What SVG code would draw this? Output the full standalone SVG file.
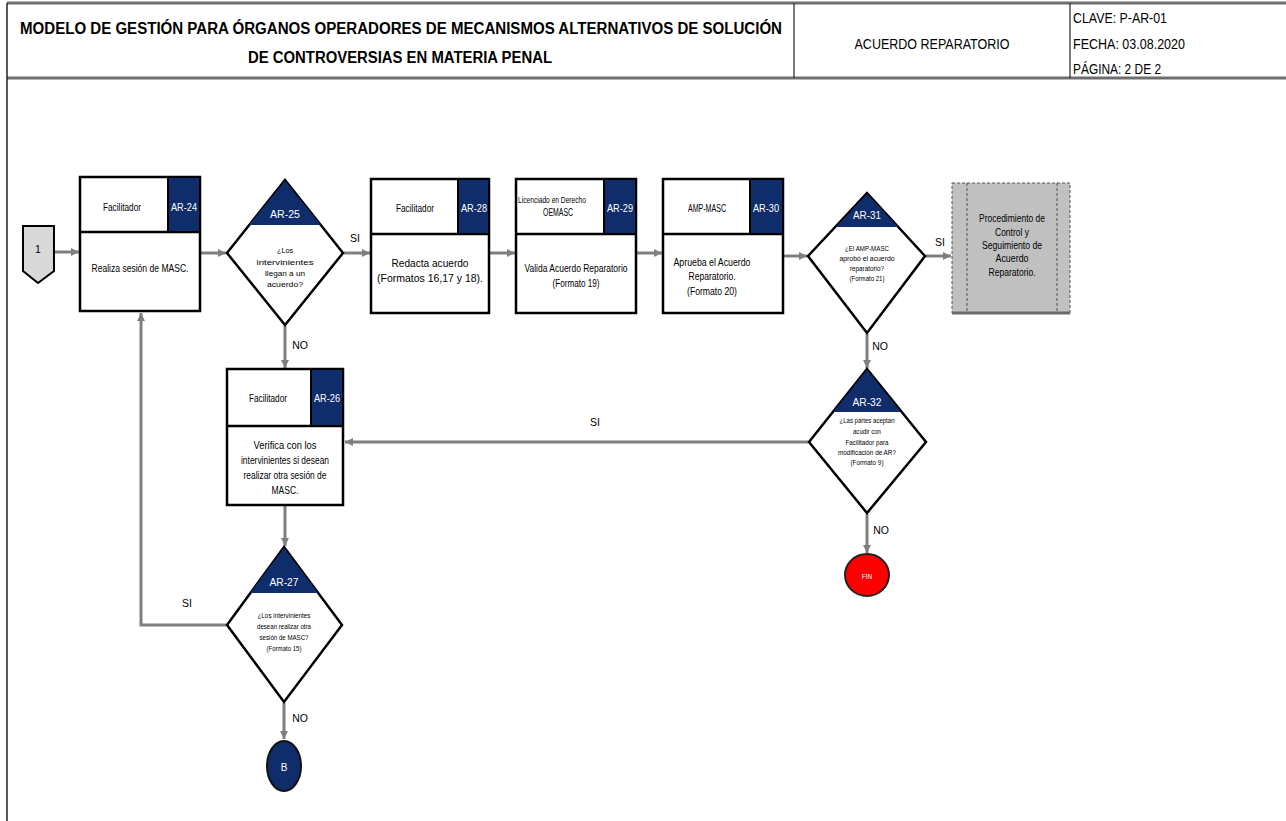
<svg xmlns="http://www.w3.org/2000/svg" width="1286" height="821" viewBox="0 0 1286 821">
<style>
text{font-family:"Liberation Sans",Arial,sans-serif;dominant-baseline:central;text-anchor:middle;fill:#000}
.title{font-weight:bold;font-size:16px}
.hdr{font-size:15px}
.hdrl{font-size:15px;text-anchor:start}
.box{fill:#fff;stroke:#000;stroke-width:2.5}
.cell{fill:#0f2d6b;stroke:#000;stroke-width:2}
.role{font-size:10px}
.code{font-size:10.5px;fill:#fff}
.dcode{font-size:11px;fill:#fff}
.body{font-size:10.5px}
.dia{fill:#fff;stroke:#000;stroke-width:2.5}
.tri{fill:#0f2d6b}
.q{font-size:7.5px}
.lbl{font-size:10.5px}
.conn{fill:none;stroke:#7f7f7f;stroke-width:3}
</style>
<defs>
<marker id="ah" markerUnits="userSpaceOnUse" markerWidth="9" markerHeight="9" refX="8" refY="4.5" orient="auto">
<path d="M0,0.5 L8,4.5 L0,8.5 z" fill="#7f7f7f"/>
</marker>
</defs>
<rect x="0" y="0" width="1286" height="821" fill="#fff"/>

<g id="header">
<line x1="7" y1="3" x2="1286" y2="3" stroke="#6e6e6e" stroke-width="3"/>
<line x1="7" y1="78" x2="1286" y2="78" stroke="#6e6e6e" stroke-width="3"/>
<line x1="7" y1="3" x2="7" y2="821" stroke="#222" stroke-width="1.5"/>
<line x1="794" y1="3" x2="794" y2="78" stroke="#222" stroke-width="1.2"/>
<line x1="1070" y1="3" x2="1070" y2="78" stroke="#222" stroke-width="1.2"/>
<text class="title" x="401" y="28" textLength="762" lengthAdjust="spacingAndGlyphs">MODELO DE GESTIÓN PARA ÓRGANOS OPERADORES DE MECANISMOS ALTERNATIVOS DE SOLUCIÓN</text>
<text class="title" x="400" y="57" textLength="304" lengthAdjust="spacingAndGlyphs">DE CONTROVERSIAS EN MATERIA PENAL</text>
<text class="hdr" x="932" y="43" textLength="155" lengthAdjust="spacingAndGlyphs">ACUERDO REPARATORIO</text>
<text class="hdrl" x="1073" y="17" textLength="94" lengthAdjust="spacingAndGlyphs">CLAVE: P-AR-01</text>
<text class="hdrl" x="1073" y="43" textLength="112" lengthAdjust="spacingAndGlyphs">FECHA: 03.08.2020</text>
<text class="hdrl" x="1073" y="68" textLength="88" lengthAdjust="spacingAndGlyphs">PÁGINA: 2 DE 2</text>
</g>

<g id="connectors">
<line class="conn" x1="54" y1="252" x2="79" y2="252" marker-end="url(#ah)"/>
<line class="conn" x1="201" y1="253" x2="226" y2="253" marker-end="url(#ah)"/>
<line class="conn" x1="344" y1="253" x2="370" y2="253" marker-end="url(#ah)"/>
<line class="conn" x1="490" y1="253" x2="515" y2="253" marker-end="url(#ah)"/>
<line class="conn" x1="637" y1="253" x2="662" y2="253" marker-end="url(#ah)"/>
<line class="conn" x1="784" y1="256" x2="807" y2="256" marker-end="url(#ah)"/>
<line class="conn" x1="926" y1="256" x2="951" y2="256" marker-end="url(#ah)"/>
<line class="conn" x1="867" y1="334" x2="867" y2="368" marker-end="url(#ah)"/>
<line class="conn" x1="808" y1="442" x2="345" y2="442" marker-end="url(#ah)"/>
<line class="conn" x1="867" y1="514" x2="867" y2="553" marker-end="url(#ah)"/>
<line class="conn" x1="285" y1="326" x2="285" y2="368" marker-end="url(#ah)"/>
<line class="conn" x1="285" y1="506" x2="285" y2="546" marker-end="url(#ah)"/>
<polyline class="conn" points="226,625 141,625 141,313" marker-end="url(#ah)"/>
<line class="conn" x1="284" y1="703" x2="284" y2="739" marker-end="url(#ah)"/>
<text class="lbl" x="355" y="238">SI</text>
<text class="lbl" x="940" y="242">SI</text>
<text class="lbl" x="300" y="345">NO</text>
<text class="lbl" x="880" y="346">NO</text>
<text class="lbl" x="595" y="422">SI</text>
<text class="lbl" x="881" y="530">NO</text>
<text class="lbl" x="187" y="603">SI</text>
<text class="lbl" x="300" y="718">NO</text>
</g>

<g id="start">
<polygon points="23,226 54,226 54,271 38,283 23,271" fill="#d9d9d9" stroke="#000" stroke-width="2"/>
<text class="body" x="38" y="249">1</text>
</g>

<g id="AR-24">
<rect class="box" x="80" y="177" width="120" height="134"/>
<line x1="80" y1="232" x2="200" y2="232" stroke="#000" stroke-width="2.5"/>
<rect class="cell" x="168" y="177" width="32" height="55"/>
<text class="role" x="122" y="207" textLength="38" lengthAdjust="spacingAndGlyphs">Facilitador</text>
<text class="code" x="184" y="207" textLength="26" lengthAdjust="spacingAndGlyphs">AR-24</text>
<text class="body" x="140" y="268" textLength="97" lengthAdjust="spacingAndGlyphs">Realiza sesión de MASC.</text>
</g>

<g id="AR-25">
<polygon class="dia" points="285,180 343,253 285,325 227,253"/>
<polygon class="tri" points="285,181 321,225 249,225"/>
<text class="dcode" x="285" y="214" textLength="30" lengthAdjust="spacingAndGlyphs">AR-25</text>
<text class="q" x="285" y="250" textLength="16" lengthAdjust="spacingAndGlyphs">¿Los</text>
<text class="q" x="285" y="262" textLength="57" lengthAdjust="spacingAndGlyphs">intervinientes</text>
<text class="q" x="285" y="273" textLength="40" lengthAdjust="spacingAndGlyphs">llegan a un</text>
<text class="q" x="285" y="284" textLength="36" lengthAdjust="spacingAndGlyphs">acuerdo?</text>
</g>

<g id="AR-28">
<rect class="box" x="371" y="179" width="118" height="134"/>
<line x1="371" y1="234" x2="489" y2="234" stroke="#000" stroke-width="2.5"/>
<rect class="cell" x="458" y="179" width="31" height="55"/>
<text class="role" x="415" y="208" textLength="38" lengthAdjust="spacingAndGlyphs">Facilitador</text>
<text class="code" x="474" y="208" textLength="26" lengthAdjust="spacingAndGlyphs">AR-28</text>
<text class="body" x="430" y="263" textLength="77" lengthAdjust="spacingAndGlyphs">Redacta acuerdo</text>
<text class="body" x="430" y="278" textLength="106" lengthAdjust="spacingAndGlyphs">(Formatos 16,17 y 18).</text>
</g>

<g id="AR-29">
<rect class="box" x="516" y="179" width="120" height="134"/>
<line x1="516" y1="234" x2="636" y2="234" stroke="#000" stroke-width="2.5"/>
<rect class="cell" x="604" y="179" width="32" height="55"/>
<text class="role" x="552" y="200" textLength="68" lengthAdjust="spacingAndGlyphs" style="font-size:8.5px">Licenciado en Derecho</text>
<text class="role" x="558" y="212" textLength="30" lengthAdjust="spacingAndGlyphs">OEMASC</text>
<text class="code" x="620" y="208" textLength="26" lengthAdjust="spacingAndGlyphs">AR-29</text>
<text class="body" x="576" y="268" textLength="103" lengthAdjust="spacingAndGlyphs">Valida Acuerdo Reparatorio</text>
<text class="body" x="576" y="283" textLength="47" lengthAdjust="spacingAndGlyphs">(Formato 19)</text>
</g>

<g id="AR-30">
<rect class="box" x="663" y="179" width="120" height="134"/>
<line x1="663" y1="234" x2="783" y2="234" stroke="#000" stroke-width="2.5"/>
<rect class="cell" x="750" y="179" width="33" height="55"/>
<text class="role" x="707" y="208" textLength="38" lengthAdjust="spacingAndGlyphs">AMP-MASC</text>
<text class="code" x="766" y="208" textLength="26" lengthAdjust="spacingAndGlyphs">AR-30</text>
<text class="body" x="712" y="262" textLength="77" lengthAdjust="spacingAndGlyphs">Aprueba el Acuerdo</text>
<text class="body" x="712" y="276" textLength="47" lengthAdjust="spacingAndGlyphs">Reparatorio.</text>
<text class="body" x="712" y="291" textLength="50" lengthAdjust="spacingAndGlyphs">(Formato 20)</text>
</g>

<g id="AR-31">
<polygon class="dia" points="867,193 925,256 867,333 808,256"/>
<polygon class="tri" points="867,194 898,227 836,227"/>
<text class="dcode" x="867" y="215" textLength="28" lengthAdjust="spacingAndGlyphs">AR-31</text>
<text class="q" x="867" y="248" textLength="44" lengthAdjust="spacingAndGlyphs">¿El AMP-MASC</text>
<text class="q" x="867" y="258" textLength="55" lengthAdjust="spacingAndGlyphs">aprobó el acuerdo</text>
<text class="q" x="867" y="268" textLength="34" lengthAdjust="spacingAndGlyphs">reparatorio?</text>
<text class="q" x="867" y="278" textLength="35" lengthAdjust="spacingAndGlyphs">(Formato 21)</text>
</g>

<g id="control">
<rect x="952" y="183" width="118" height="130" fill="#c0c0c0" stroke="#555" stroke-width="1" stroke-dasharray="3,2"/>
<line x1="952" y1="313" x2="1070" y2="313" stroke="#6a6a6a" stroke-width="3"/>
<line x1="967" y1="183" x2="967" y2="313" stroke="#555" stroke-width="1" stroke-dasharray="3,2"/>
<line x1="1057" y1="183" x2="1057" y2="313" stroke="#555" stroke-width="1" stroke-dasharray="3,2"/>
<text class="body" x="1012" y="218" textLength="66" lengthAdjust="spacingAndGlyphs">Procedimiento de</text>
<text class="body" x="1012" y="232" textLength="34" lengthAdjust="spacingAndGlyphs">Control y</text>
<text class="body" x="1012" y="245" textLength="60" lengthAdjust="spacingAndGlyphs">Seguimiento de</text>
<text class="body" x="1012" y="258" textLength="33" lengthAdjust="spacingAndGlyphs">Acuerdo</text>
<text class="body" x="1012" y="272" textLength="47" lengthAdjust="spacingAndGlyphs">Reparatorio.</text>
</g>

<g id="AR-32">
<polygon class="dia" points="867,369 926,442 867,513 809,442"/>
<polygon class="tri" points="867,370 901,412 833,412"/>
<text class="dcode" x="867" y="402" textLength="29" lengthAdjust="spacingAndGlyphs">AR-32</text>
<text class="q" x="867" y="420" textLength="55" lengthAdjust="spacingAndGlyphs">¿Las partes aceptan</text>
<text class="q" x="867" y="431" textLength="28" lengthAdjust="spacingAndGlyphs">acudir con</text>
<text class="q" x="867" y="442" textLength="43" lengthAdjust="spacingAndGlyphs">Facilitador para</text>
<text class="q" x="867" y="452" textLength="58" lengthAdjust="spacingAndGlyphs">modificación de AR?</text>
<text class="q" x="867" y="462" textLength="33" lengthAdjust="spacingAndGlyphs">(Formato 9)</text>
</g>

<g id="FIN">
<ellipse cx="867" cy="575" rx="22" ry="21" fill="#ff0000" stroke="#222" stroke-width="2"/>
<text x="867" y="576" style="font-size:6.5px;fill:#fff">FIN</text>
</g>

<g id="AR-26">
<rect class="box" x="227" y="369" width="116" height="136"/>
<line x1="227" y1="426" x2="343" y2="426" stroke="#000" stroke-width="2.5"/>
<rect class="cell" x="311" y="369" width="32" height="57"/>
<text class="role" x="268" y="398" textLength="38" lengthAdjust="spacingAndGlyphs">Facilitador</text>
<text class="code" x="327" y="398" textLength="26" lengthAdjust="spacingAndGlyphs">AR-26</text>
<text class="body" x="285" y="445" textLength="63" lengthAdjust="spacingAndGlyphs">Verifica con los</text>
<text class="body" x="285" y="460" textLength="88" lengthAdjust="spacingAndGlyphs">intervinientes si desean</text>
<text class="body" x="285" y="475" textLength="83" lengthAdjust="spacingAndGlyphs">realizar otra sesión de</text>
<text class="body" x="285" y="490" textLength="27" lengthAdjust="spacingAndGlyphs">MASC.</text>
</g>

<g id="AR-27">
<polygon class="dia" points="284,547 342,625 284,702 227,625"/>
<polygon class="tri" points="284,548 318,593 250,593"/>
<text class="dcode" x="284" y="582" textLength="29" lengthAdjust="spacingAndGlyphs">AR-27</text>
<text class="q" x="284" y="615" textLength="53" lengthAdjust="spacingAndGlyphs">¿Los intervinientes</text>
<text class="q" x="284" y="626" textLength="54" lengthAdjust="spacingAndGlyphs">desean realizar otra</text>
<text class="q" x="284" y="637" textLength="49" lengthAdjust="spacingAndGlyphs">sesión de MASC?</text>
<text class="q" x="284" y="648" textLength="35" lengthAdjust="spacingAndGlyphs">(Formato 15)</text>
</g>

<g id="B">
<ellipse cx="284" cy="766" rx="17" ry="25" fill="#0f2d6b" stroke="#111" stroke-width="2"/>
<text x="284" y="767" style="font-size:10px;fill:#fff">B</text>
</g>
</svg>
